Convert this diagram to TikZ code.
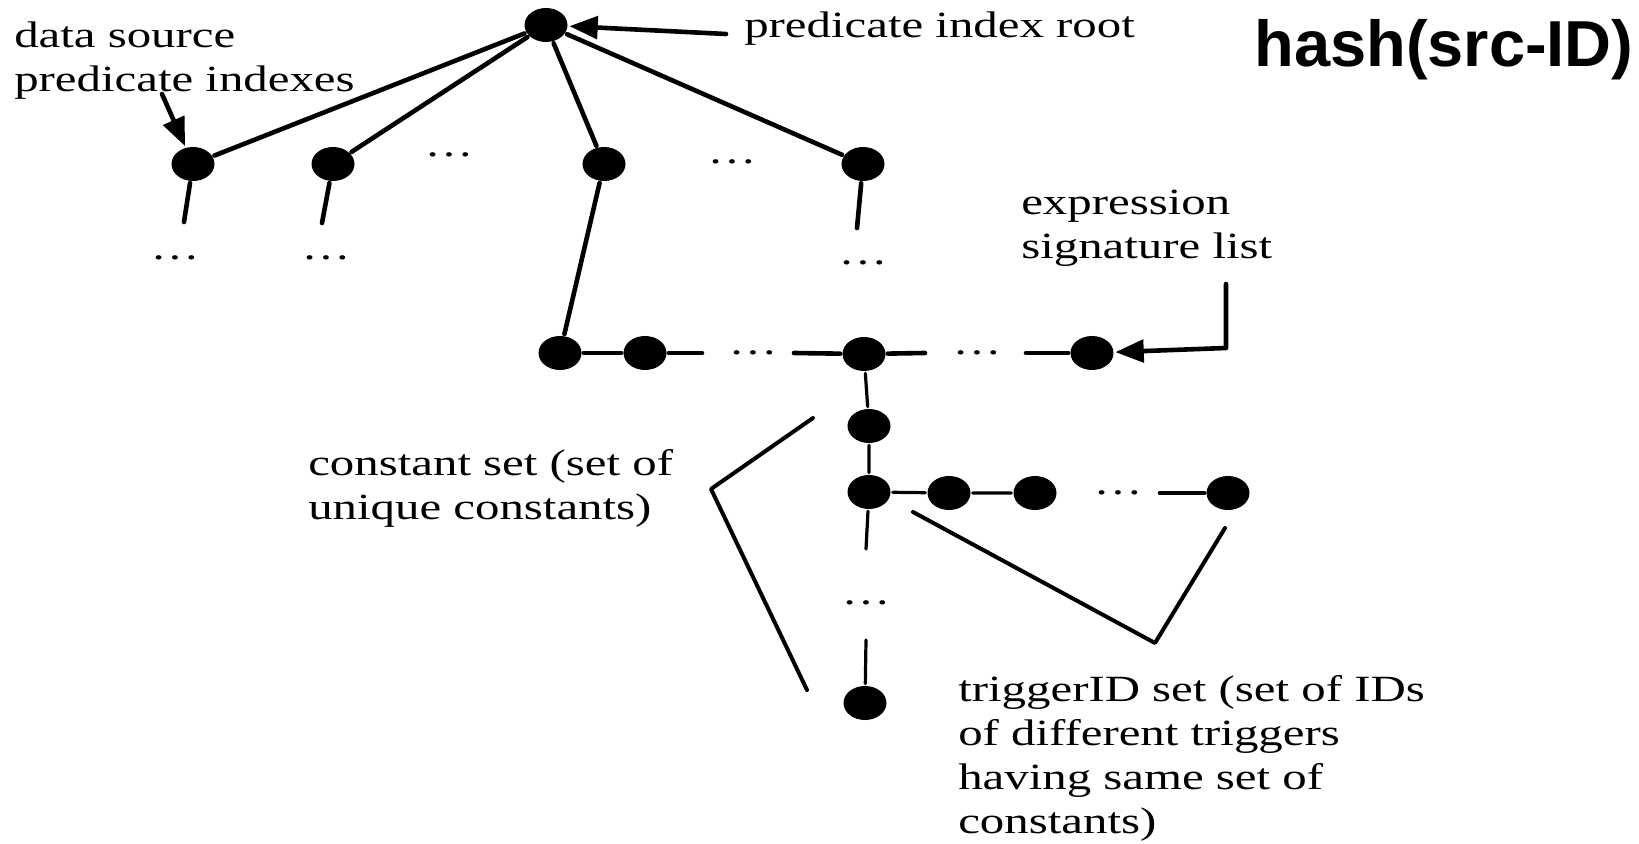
\documentclass[tikz,border=0pt]{standalone}
\usepackage{fontspec}
\setmainfont[FakeStretch=1.32]{Liberation Serif}
\newfontfamily\hashfont{Liberation Sans}
\usetikzlibrary{arrows}
\usetikzlibrary{shapes.geometric}

\tikzset{
  dot/.style={ellipse,fill=black,inner sep=0pt,minimum width=21.5pt,minimum height=17pt},
  lbl/.style={align=left,inner sep=0pt,font=\fontsize{18.5}{22}\selectfont},
  gap/.style={inner sep=0pt,font=\fontsize{18.5}{22}\selectfont},
  thinline/.style={line width=1.6pt}
}

\begin{document}
\begin{tikzpicture}[line cap=round,line join=round,>=triangle 45,x=0.5pt,y=-0.5pt,line width=2.3pt]
\useasboundingbox (0,0) rectangle (1639,844);
% predicate index tree
\node[dot] (root) at (546,25) {};
\foreach \n/\x in {pa/193,pb/333,pc/604,pd/863}
\node[dot] (\n) at (\x,164) {};
\foreach \n in {pa,pb,pc,pd}
\draw (root) -- (\n);
\node[gap] (ga) at (449,155) {\dots};
\node[gap] (gb) at (732,162) {\dots};
\coordinate (sa) at (184,222);
\coordinate (sb) at (322,223);
\coordinate (sd) at (857,228);
\draw (pa) -- (sa);
\draw (pb) -- (sb);
\draw (pd) -- (sd);
\node[gap] (ua) at (175,258) {\dots};
\node[gap] (ub) at (326,258) {\dots};
\node[gap] (ud) at (863,263) {\dots};
% expression signature list
\node[dot] (ea) at (560,353) {};
\node[dot] (eb) at (645,353) {};
\node[dot] (ec) at (864,354) {};
\node[dot] (ed) at (1092,353) {};
\draw (pc) -- (ea);
\coordinate (eb1) at (702,353);
\node[gap] (gc) at (753,353) {\dots};
\coordinate (ec0) at (794,353);
\coordinate (ec1) at (925,353);
\node[gap] (gd) at (977,353) {\dots};
\coordinate (ed0) at (1026,353);
\draw (ea) -- (eb) -- (eb1);
\draw (ec0) -- (ec) -- (ec1);
\draw (ed0) -- (ed);
% constant set and triggerID set
\node[dot] (ca) at (869,426) {};
\node[dot] (cb) at (869,492) {};
\node[dot] (cz) at (865,703) {};
\node[dot] (ta) at (949,493) {};
\node[dot] (tb) at (1035,493) {};
\node[dot] (tz) at (1228,493) {};
\coordinate (cb1) at (866,549);
\node[gap] (ge) at (866,603) {\dots};
\coordinate (cz0) at (866,640);
\node[gap] (gf) at (1118,493) {\dots};
\coordinate (tz0) at (1160,493);
\draw[thinline] (ec) -- (ca) -- (cb) -- (cb1);
\draw[thinline] (cz0) -- (cz);
\draw[thinline] (cb) -- (ta) -- (tb);
\draw (tz0) -- (tz);
% brackets
\coordinate (ka) at (813,418);
\coordinate (kb) at (711,489);
\coordinate (kc) at (807,690);
\coordinate (ma) at (913,512);
\coordinate (mb) at (1155,643);
\coordinate (mc) at (1225,528);
\draw[line width=2pt] (ka) -- (kb) -- (kc);
\draw[line width=2pt] (ma) -- (mb) -- (mc);
% labels
\node[lbl,anchor=west] (rootlbl) at (742,29) {predicate index root};
\node[lbl,anchor=west] (srclbl) at (12,61) {data source\\predicate indexes};
\node[lbl,anchor=west] (explbl) at (1019,228) {expression\\signature list};
\node[lbl,anchor=west] (constlbl) at (306,488) {constant set (set of\\unique constants)};
\node[lbl,anchor=west] (triglbl) at (956,758) {triggerID set (set of IDs\\of different triggers\\having same set of\\constants)};
\node[anchor=base west,inner sep=0pt,font=\hashfont\fontsize{32.5}{36}\selectfont\bfseries] (hash) at (1252,67) {hash(src-ID)};
% arrows
\coordinate (rootarr) at (726,34);
\draw[->] (rootarr) -- (root);
\coordinate (srcarr) at (162,94);
\draw[->] (srcarr) -- (pa);
\coordinate (exparr) at (1226,284);
\coordinate (elbow) at (1226,348);
\draw[->] (exparr) -- (elbow) -- (ed);
\end{tikzpicture}
\end{document}
